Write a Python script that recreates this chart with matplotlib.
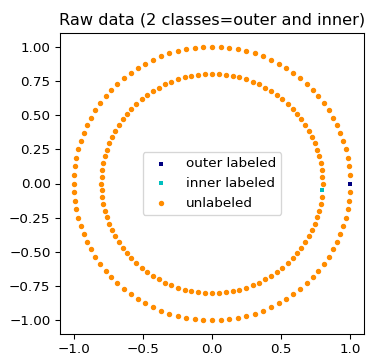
import numpy as np
import matplotlib
matplotlib.use("Agg")
import matplotlib.pyplot as plt

# two concentric rings of 100 evenly spaced samples each
ring_radii = [1.0, 0.8]
points_per_ring = 100
# index of the single labeled sample in each ring
labeled_index = {"outer": 0, "inner": 99}

angles = np.linspace(0, 2 * np.pi, points_per_ring, endpoint=False)
X = np.vstack([np.c_[r * np.cos(angles), r * np.sin(angles)] for r in ring_radii])
labels = np.full(len(X), -1)
labels[labeled_index["outer"]] = 0
labels[points_per_ring + labeled_index["inner"]] = 1

W, H = 367, 358
DPI = 97
fig = plt.figure(figsize=(W / DPI, H / DPI), dpi=DPI)
ax = fig.add_axes([60 / W, (H - 334) / H, 304 / W, 301 / H])
ax.scatter(X[labels == 0, 0], X[labels == 0, 1], color="navy", marker="s",
           lw=0, label="outer labeled", s=10)
ax.scatter(X[labels == 1, 0], X[labels == 1, 1], color="c", marker="s",
           lw=0, label="inner labeled", s=10)
ax.scatter(X[labels == -1, 0], X[labels == -1, 1], color="darkorange",
           marker=".", label="unlabeled")
ax.legend(scatterpoints=1, shadow=False, loc="center")
ax.set_title("Raw data (2 classes=outer and inner)")
fig.savefig("out.png", dpi=DPI)
